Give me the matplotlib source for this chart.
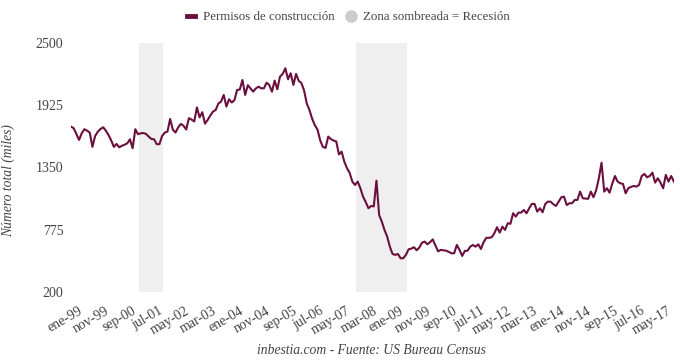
import matplotlib.pyplot as plt
import matplotlib.transforms as mtransforms
from matplotlib.lines import Line2D

# permisos de construccion, miles (mensual, ene-1999 .. oct-2017)
permisos = [
    1727, 1712, 1660, 1604, 1665, 1703, 1690, 1672, 1540, 1640, 1680, 1705,  # 1999
    1721, 1690, 1650, 1600, 1540, 1567, 1536, 1550, 1560, 1573, 1610, 1527,  # 2000
    1703, 1657, 1665, 1668, 1660, 1635, 1613, 1610, 1565, 1565, 1640, 1672,  # 2001
    1681, 1798, 1700, 1672, 1720, 1752, 1735, 1700, 1805, 1792, 1775, 1905,  # 2002
    1812, 1860, 1755, 1789, 1830, 1866, 1881, 1940, 1958, 2020, 1912, 1980,  # 2003
    1950, 1972, 2066, 2070, 2158, 2020, 2110, 2080, 2050, 2080, 2096, 2081,  # 2004
    2081, 2133, 2112, 2050, 2152, 2072, 2189, 2214, 2266, 2165, 2220, 2112,  # 2005
    2214, 2150, 2130, 2060, 1940, 1880, 1800, 1740, 1700, 1600, 1540, 1530,  # 2006
    1635, 1612, 1598, 1590, 1470, 1496, 1404, 1343, 1300, 1219, 1188, 1219,  # 2007
    1158, 1080, 1030, 973, 994, 990, 1228, 911, 849, 773, 711, 618,          # 2008
    551, 542, 551, 511, 511, 542, 594, 600, 613, 585, 610, 655,              # 2009
    665, 640, 660, 685, 630, 575, 588, 585, 581, 570, 557, 557,              # 2010
    634, 588, 532, 579, 581, 618, 634, 618, 640, 597, 660, 700,              # 2011
    700, 705, 742, 798, 748, 803, 773, 835, 829, 927, 896, 933,              # 2012
    933, 957, 927, 973, 1013, 1013, 942, 973, 936, 1013, 1034, 1034,         # 2013
    1010, 994, 1034, 1075, 1080, 1003, 1019, 1019, 1050, 1050, 1127, 1065,   # 2014
    1062, 1060, 1127, 1075, 1140, 1250, 1394, 1127, 1158, 1117, 1200, 1271,  # 2015
    1219, 1204, 1198, 1111, 1158, 1170, 1179, 1173, 1188, 1271, 1290, 1259,  # 2016
    1271, 1302, 1210, 1250, 1210, 1158, 1281, 1219, 1271, 1219,              # 2017
]
meses = list(range(len(permisos)))

# recesiones (indice de mes inicio, fin)
recesiones = [(26, 34), (107, 125)]

etiquetas_x = ['ene-99', 'nov-99', 'sep-00', 'jul-01', 'may-02', 'mar-03', 'ene-04',
               'nov-04', 'sep-05', 'jul-06', 'may-07', 'mar-08', 'ene-09', 'nov-09',
               'sep-10', 'jul-11', 'may-12', 'mar-13', 'ene-14', 'nov-14', 'sep-15',
               'jul-16', 'may-17']
ticks_y = [200, 775, 1350, 1925, 2500]

plt.rcParams['font.family'] = ['Liberation Serif', 'DejaVu Serif']
gris = '#444444'

fig = plt.figure(figsize=(6.8, 3.64), dpi=100)
ax = fig.add_axes([0.1044, 0.198, 0.8866, 0.684])

for ini, fin in recesiones:
    ax.axvspan(ini - 0.5, fin + 0.5, color='#efefef', lw=0, zorder=0)

ax.plot(meses, permisos, color='#6b0f3f', lw=1.5, zorder=2)

ax.set_xlim(0, len(permisos) - 1)
ax.set_ylim(200, 2500)
ax.set_yticks(ticks_y)
ax.set_yticklabels([str(t) for t in ticks_y])
ax.set_xticks(list(range(0, 10 * len(etiquetas_x), 10)))
ax.set_xticklabels(etiquetas_x, rotation=30, ha='right', rotation_mode='anchor')
ax.tick_params(axis='both', length=0, labelsize=10, colors=gris)
ax.tick_params(axis='x', pad=9)
ax.tick_params(axis='y', pad=5.5)
desplaza = mtransforms.ScaledTranslation(7 / 100, 0, fig.dpi_scale_trans)
for lab in ax.get_xticklabels():
    lab.set_transform(lab.get_transform() + desplaza)
for s in ax.spines.values():
    s.set_visible(False)

ax.set_ylabel('Número total (miles)', fontstyle='italic', fontsize=9.8, color=gris)
ax.yaxis.set_label_coords(-0.093, 0.446)

handles = [Line2D([], [], color='#6b0f3f', lw=3.5),
           Line2D([], [], ls='', marker='o', markersize=8, color='#cccccc')]
fig.legend(handles, ['Permisos de construcción', 'Zona sombreada = Recesión'],
           loc='center', bbox_to_anchor=(0.5125, 0.953), ncol=2, frameon=False,
           fontsize=9.3, handlelength=0.6, handletextpad=0.6, columnspacing=1.0,
           labelcolor=gris)

fig.text(0.546, 0.036, 'inbestia.com - Fuente: US Bureau Census',
         ha='center', va='center', fontstyle='italic', fontsize=9.8, color=gris)

fig.savefig('out.png', dpi=100)
